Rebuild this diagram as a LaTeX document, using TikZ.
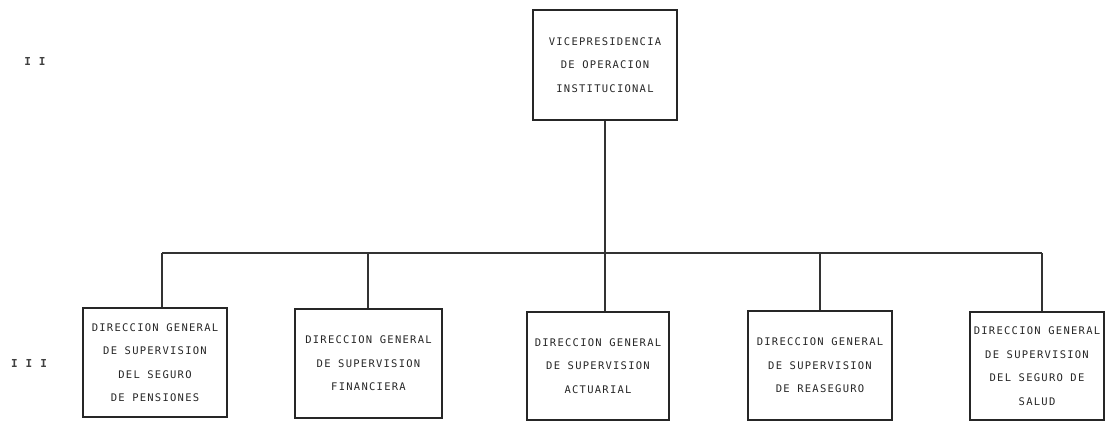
\documentclass[tikz,border=0pt]{standalone}
\usepackage{fontspec}
\newfontfamily\plotfont[LetterSpace=12]{DejaVu Sans Mono}
\begin{document}
\begin{tikzpicture}[x=1pt,y=-1pt,
  unit/.style={draw=black!85, line width=2.2pt, align=center, inner sep=0pt,
    font=\plotfont\fontsize{10.5}{23.5}\selectfont, text=black!85},
  conn/.style={draw=black!80, line width=1.3pt},
  lvl/.style={font=\plotfont\bfseries\fontsize{11}{12}\selectfont, text=black!75}]
\useasboundingbox (0,0) rectangle (1105,422);
\node[unit, minimum width=144pt, minimum height=110pt] (top) at (605,65)
  {VICEPRESIDENCIA\\DE OPERACION\\INSTITUCIONAL};
\node[unit, minimum width=144pt, minimum height=109pt] (b1) at (155,362.5)
  {DIRECCION GENERAL\\DE SUPERVISION\\DEL SEGURO\\DE PENSIONES};
\node[unit, minimum width=147pt, minimum height=109pt] (b2) at (368.5,363.5)
  {DIRECCION GENERAL\\DE SUPERVISION\\FINANCIERA};
\node[unit, minimum width=142pt, minimum height=108pt] (b3) at (598,366)
  {DIRECCION GENERAL\\DE SUPERVISION\\ACTUARIAL};
\node[unit, minimum width=144pt, minimum height=109pt] (b4) at (820,365.5)
  {DIRECCION GENERAL\\DE SUPERVISION\\DE REASEGURO};
\node[unit, minimum width=134pt, minimum height=108pt] (b5) at (1037,366)
  {DIRECCION GENERAL\\DE SUPERVISION\\DEL SEGURO DE\\SALUD};
\node[lvl] (l2) at (35,61) {I I};
\node[lvl] (l3) at (29,363) {I I I};
\coordinate (j1) at (162,253);
\coordinate (j2) at (368,253);
\coordinate (j3) at (605,253);
\coordinate (j4) at (820,253);
\coordinate (j5) at (1042,253);
\draw[conn] (j1) -- (j5);
\draw[conn] (top.south) -- (top.south |- b3.north);
\draw[conn] (j1) -- (j1 |- b1.north);
\draw[conn] (j2) -- (j2 |- b2.north);
\draw[conn] (j4) -- (j4 |- b4.north);
\draw[conn] (j5) -- (j5 |- b5.north);
\end{tikzpicture}
\end{document}
